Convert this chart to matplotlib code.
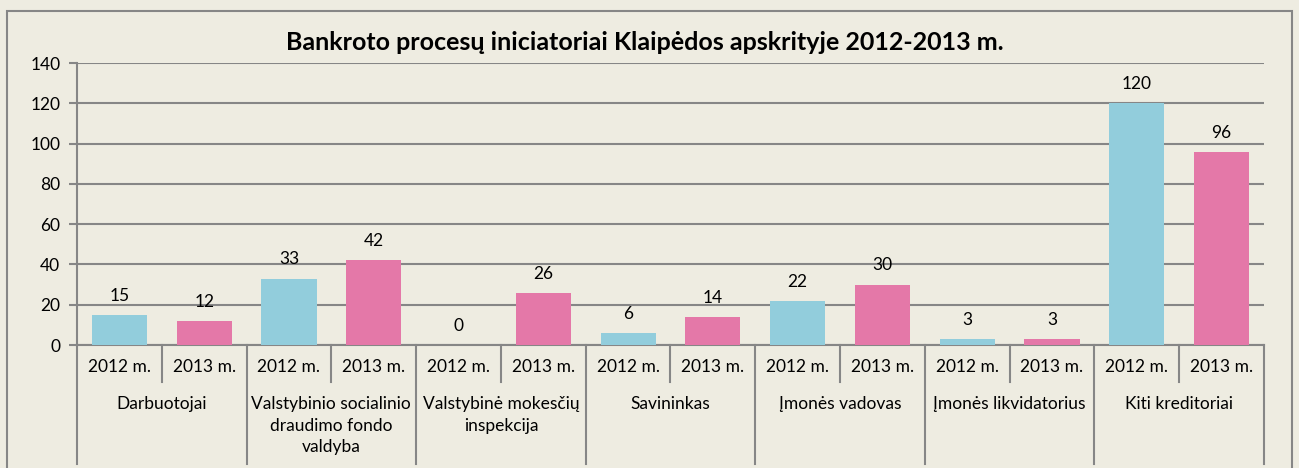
import matplotlib
matplotlib.use("Agg")
import matplotlib.pyplot as plt
from matplotlib.patches import Rectangle
import matplotlib.transforms as mtransforms

plt.rcParams['font.family'] = ['Lato', 'DejaVu Sans']

groups = ["Darbuotojai", "Valstybinio socialinio\ndraudimo fondo\nvaldyba",
          "Valstybinė mokesčių\ninspekcija", "Savininkas", "Įmonės vadovas",
          "Įmonės likvidatorius", "Kiti kreditoriai"]
years = ["2012 m.", "2013 m."]
v2012 = [15, 33, 0, 6, 22, 3, 120]
v2013 = [12, 42, 26, 14, 30, 3, 96]
title = "Bankroto procesų iniciatoriai Klaipėdos apskrityje 2012-2013 m."

bg = "#EEECE1"
blue = "#92CDDC"
pink = "#E478A8"
grey = "#868686"

fig = plt.figure(figsize=(12.99, 4.68), dpi=100, facecolor=bg)
fig.patches.append(Rectangle((7/1299, -0.05), 1285/1299, 1 - 11/468 + 0.05,
                             transform=fig.transFigure, fill=False,
                             edgecolor=grey, linewidth=1.5))
ax = fig.add_axes([77/1299, 1 - 345/468, 1187/1299, 282/468])
ax.set_facecolor(bg)

values = []
labels = []
colors = []
for i in range(len(groups)):
    values += [v2012[i], v2013[i]]
    labels += years
    colors += [blue, pink]
xs = list(range(len(values)))

bars = ax.bar(xs, values, width=0.65, color=colors, zorder=3)
for x, v in zip(xs, values):
    ax.annotate(str(v), (x, v), xytext=(0, 8), textcoords="offset points",
                ha="center", va="bottom", fontsize=12.5)

ax.set_xlim(-0.5, len(values) - 0.5)
ax.set_ylim(0, 140)
ax.set_yticks(range(0, 141, 20))
ax.tick_params(axis="y", labelsize=12.5, length=6, color=grey, width=1.5, pad=6)
ax.grid(axis="y", color=grey, linewidth=1.5, zorder=0)
ax.set_xticks([])
for s in ["top", "right"]:
    ax.spines[s].set_visible(False)
ax.spines["left"].set_color(grey)
ax.spines["left"].set_linewidth(1.5)
ax.spines["bottom"].set_color(grey)
ax.spines["bottom"].set_linewidth(1.5)

trans = mtransforms.blended_transform_factory(ax.transData, ax.transAxes)
for k in range(len(values) + 1):
    b = k - 0.5
    low = -0.422 if k % 2 == 0 else -0.131
    ax.plot([b, b], [0, low], transform=trans, color=grey, linewidth=1.5,
            clip_on=False)
for x, lab in zip(xs, labels):
    ax.text(x, -0.078, lab, transform=trans, ha="center", va="center",
            fontsize=12.5)
for i, g in enumerate(groups):
    ax.text(2 * i + 0.5, -0.18, g, transform=trans, ha="center", va="top",
            fontsize=12.5, linespacing=1.45)

fig.text(645/1299, 1 - 42/468, title, fontsize=18, fontweight="bold",
         ha="center", va="center")

fig.savefig("out.png", dpi=100, facecolor=bg)
